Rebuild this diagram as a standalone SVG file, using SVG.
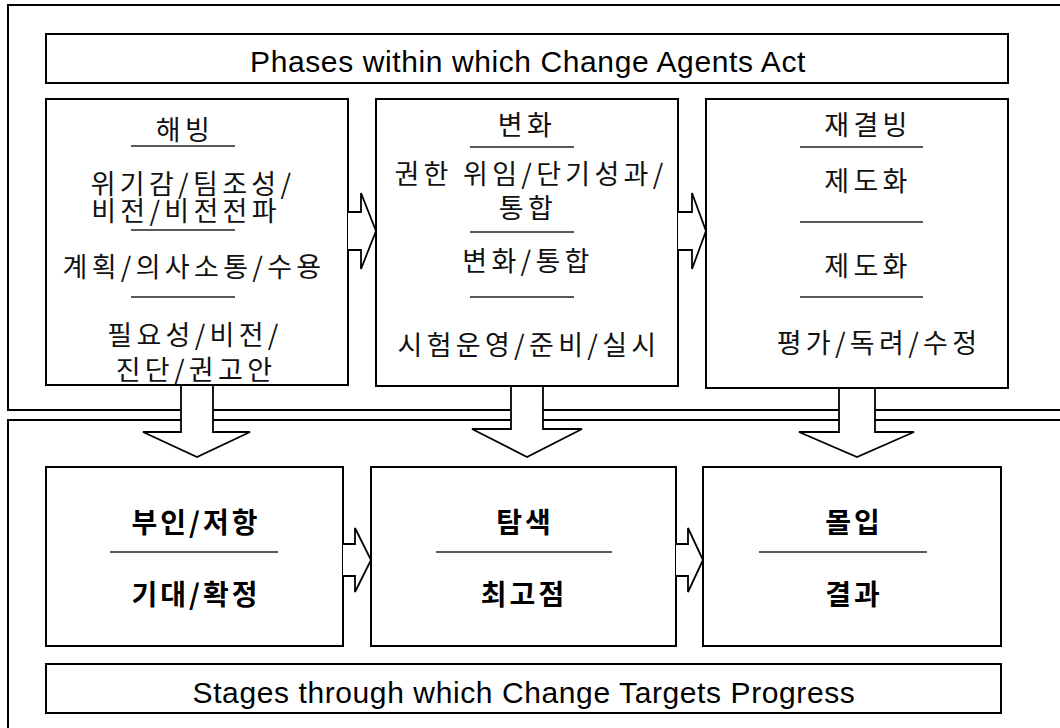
<svg xmlns="http://www.w3.org/2000/svg" width="1060" height="728" viewBox="0 0 1060 728">
<style>
.frame{fill:none;stroke:#000;stroke-width:2}
.box{fill:#fff;stroke:#000;stroke-width:2}
.arrow{fill:#fff;stroke:#000;stroke-width:1.8;stroke-linejoin:miter}
.div{stroke:#222;stroke-width:1.3}
.en{font-family:"Liberation Sans","Noto Sans CJK KR",sans-serif;font-size:30px;letter-spacing:0.6px;text-anchor:middle;fill:#000}
.ko{font-family:"Noto Sans CJK KR","Noto Sans CJK SC",sans-serif;font-size:27px;letter-spacing:4.3px;text-anchor:middle;fill:#111}
.kb{font-family:"Noto Sans CJK KR","Noto Sans CJK SC",sans-serif;font-size:28px;font-weight:bold;letter-spacing:3px;text-anchor:middle;fill:#000}
</style>
<rect width="1060" height="728" fill="#fff"/>
<g id="frames">
<path class="frame" d="M1070,5 H8 V410 H1070"/>
<path class="frame" d="M1070,420 H8 V740"/>
</g>
<g id="title-top">
<rect class="box" x="46" y="34" width="962" height="49"/>
<text class="en" x="528" y="72">Phases within which Change Agents Act</text>
</g>
<g id="node-unfreeze">
<rect class="box" x="46" y="99" width="302" height="286"/>
<text class="ko" x="185" y="140">해빙</text>
<line class="div" x1="131" y1="146" x2="235" y2="146"/>
<text class="ko"><tspan x="193" y="194">위기감/팀조성/</tspan><tspan x="186" y="221">비전/비전전파</tspan></text>
<line class="div" x1="131" y1="230" x2="235" y2="230"/>
<text class="ko" x="194" y="277">계획/의사소통/수용</text>
<line class="div" x1="131" y1="297" x2="235" y2="297"/>
<text class="ko"><tspan x="195" y="345">필요성/비전/</tspan><tspan x="196" y="380">진단/권고안</tspan></text>
</g>
<g id="node-change">
<rect class="box" x="376" y="99" width="302" height="287"/>
<text class="ko" x="527" y="135">변화</text>
<line class="div" x1="470" y1="147" x2="574" y2="147"/>
<text class="ko"><tspan x="531" y="184">권한 위임/단기성과/</tspan><tspan x="528" y="218">통합</tspan></text>
<line class="div" x1="470" y1="232" x2="574" y2="232"/>
<text class="ko" x="528" y="271">변화/통합</text>
<line class="div" x1="470" y1="297" x2="574" y2="297"/>
<text class="ko" x="529" y="355">시험운영/준비/실시</text>
</g>
<g id="node-refreeze">
<rect class="box" x="706" y="99" width="302" height="289"/>
<text class="ko" x="868" y="135">재결빙</text>
<line class="div" x1="800" y1="147" x2="923" y2="147"/>
<text class="ko" x="868" y="191">제도화</text>
<line class="div" x1="800" y1="222" x2="923" y2="222"/>
<text class="ko" x="868" y="276">제도화</text>
<line class="div" x1="800" y1="297" x2="923" y2="297"/>
<text class="ko" x="879" y="353">평가/독려/수정</text>
</g>
<g id="node-denial">
<rect class="box" x="46" y="467" width="297" height="179"/>
<text class="kb" x="196" y="533">부인/저항</text>
<line class="div" x1="110" y1="552" x2="278" y2="552"/>
<text class="kb" x="196" y="605">기대/확정</text>
</g>
<g id="node-explore">
<rect class="box" x="371" y="467" width="305" height="179"/>
<text class="kb" x="525" y="533">탐색</text>
<line class="div" x1="436" y1="552" x2="612" y2="552"/>
<text class="kb" x="524" y="605">최고점</text>
</g>
<g id="node-commit">
<rect class="box" x="703" y="467" width="298" height="179"/>
<text class="kb" x="854" y="533">몰입</text>
<line class="div" x1="759" y1="552" x2="927" y2="552"/>
<text class="kb" x="854" y="605">결과</text>
</g>
<g id="title-bottom">
<rect class="box" x="46" y="664" width="955" height="49"/>
<text class="en" x="524" y="703">Stages through which Change Targets Progress</text>
</g>
<g id="connectors">
<path class="arrow" d="M348,212 H361 V193 L376,231 L361,269 V250 H348"/>
<path class="arrow" d="M678,212 H692 V193 L706,231 L692,269 V250 H678"/>
<path class="arrow" d="M343,544 H355 V528 L371,560 L355,592 V576 H343"/>
<path class="arrow" d="M676,544 H688 V528 L703,560 L688,592 V576 H676"/>
<path class="arrow" d="M181,386 V432 H143 L197,457 L250,432 H213 V386"/>
<path class="arrow" d="M511,387 V429 H472 L527,457 L582,429 H543 V387"/>
<path class="arrow" d="M839,389 V432 H799 L857,457 L914,432 H875 V389"/>
</g>
</svg>
